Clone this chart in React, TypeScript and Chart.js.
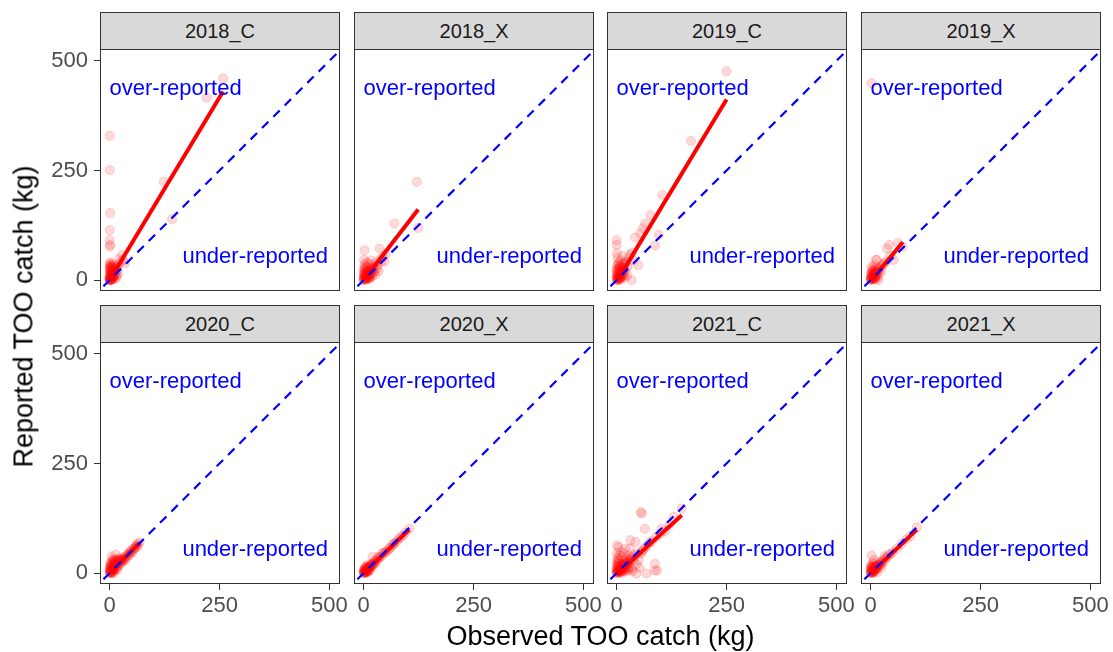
import React, { useEffect, useRef } from "react";
import { Chart, registerables } from "chart.js";

Chart.register(...registerables);

const FONT = "'Liberation Sans', Arial, Helvetica, sans-serif";
Chart.defaults.font.family = FONT;

// ---------------- data ----------------
const panelNames = ["2018_C", "2018_X", "2019_C", "2019_X", "2020_C", "2020_X", "2021_C", "2021_X"];

const xTicks = [0, 250, 500];
const yTicks = [0, 250, 500];
const xRange = [-22, 524];
const yRange = [-25, 527];

// 1:1 reference line (observed = reported)
const refLineX = [-40, 600];
const refLineY = [-40, 600];

const regionLabels = [
  { text: "over-reported", x: 150, y: 436 },
  { text: "under-reported", x: 331, y: 53 },
];

type P = [number, number];

// [observed, reported]
const pts2018C: P[] = [
  [258, 460], [221, 416], [123, 224], [142, 139], [0, 329], [0, 251], [1, 153], [0, 114], [0, 91], [1, 80], [0, 76], [28, 57], [22, 48],
  [0, 0], [1, 2], [2, 5], [3, 1], [5, 8], [4, 12], [2, 18], [6, 22], [8, 15], [10, 20], [12, 30], [3, 28], [1, 35], [0, 25], [7, 4], [15, 10],
  [18, 24], [20, 36], [9, 9], [0, 12], [14, 17], [25, 40], [5, 32], [11, 3], [16, 5], [30, 46], [2, 40], [35, 38], [4, 0], [0, 5], [6, 6],
  [13, 26], [19, 14], [1, 30], [3, 22], [8, 36],
  [0, 1], [1, 0], [2, 2], [3, 4], [1, 6], [0, 8], [2, 10], [4, 6], [5, 3], [6, 12], [3, 14], [1, 16], [0, 20], [2, 24], [4, 18], [7, 10],
  [8, 2], [9, 14], [10, 8], [5, 20], [3, 32], [6, 28], [0, 30], [1, 38], [11, 24], [12, 12], [14, 28], [2, 0], [0, 3], [4, 9],
];
const pts2018X: P[] = [
  [121, 224], [70, 129], [124, 119], [2, 68], [36, 72], [1, 46], [47, 42],
  [0, 0], [2, 3], [4, 8], [6, 2], [8, 12], [10, 6], [12, 18], [3, 15], [1, 25], [5, 30], [15, 22], [18, 28], [20, 15], [22, 35], [25, 30],
  [28, 40], [14, 10], [9, 20], [30, 26], [7, 5], [0, 10], [2, 35], [11, 38], [16, 45], [24, 18], [32, 34], [38, 48], [40, 42], [26, 12],
  [4, 22], [13, 4], [0, 18], [19, 8], [6, 40], [44, 52], [50, 58], [34, 20],
  [0, 2], [1, 1], [2, 6], [3, 3], [4, 12], [5, 5], [6, 9], [7, 14], [8, 4], [9, 10], [10, 16], [11, 8], [12, 12], [13, 20], [14, 15],
  [15, 6], [16, 24], [17, 14], [18, 20], [20, 26], [22, 22], [3, 20], [1, 14], [0, 6], [5, 1], [8, 24], [10, 30], [12, 2], [2, 28], [6, 18],
];
const pts2019C: P[] = [
  [250, 476], [169, 317], [104, 194], [77, 148], [65, 129], [54, 107], [42, 97], [96, 103], [87, 78], [0, 91], [0, 80], [0, 61],
  [34, 0], [15, 38], [49, 34], [60, 118],
  [0, 0], [2, 4], [4, 1], [6, 10], [8, 6], [10, 15], [12, 20], [3, 25], [1, 32], [5, 40], [14, 12], [16, 28], [18, 35], [20, 22], [22, 42],
  [25, 30], [28, 50], [7, 3], [9, 45], [11, 8], [0, 15], [2, 50], [30, 58], [24, 10], [19, 5], [35, 62], [38, 45], [13, 55], [6, 30],
  [0, 2], [1, 6], [2, 1], [3, 8], [4, 12], [5, 4], [6, 16], [7, 9], [8, 20], [9, 2], [10, 26], [11, 14], [12, 6], [13, 30], [14, 22],
  [15, 18], [0, 22], [1, 12], [3, 36], [2, 18], [5, 24], [7, 28], [9, 34], [4, 5], [6, 0], [0, 8], [1, 26], [17, 12], [20, 40], [8, 12],
];
const pts2019X: P[] = [
  [2, 449], [37, 72], [42, 80], [62, 84], [73, 76], [52, 46], [14, 46], [12, 46], [8, 34], [18, 0], [2, 30],
  [0, 0], [2, 4], [5, 2], [8, 10], [10, 6], [12, 15], [4, 18], [15, 12], [18, 22], [20, 16], [6, 8], [3, 25], [14, 28], [22, 30], [25, 20],
  [1, 12], [9, 3], [16, 5], [28, 35], [30, 38], [35, 42], [11, 20], [45, 55],
  [0, 2], [1, 1], [2, 6], [3, 3], [4, 9], [5, 12], [6, 4], [7, 14], [8, 6], [9, 16], [10, 10], [11, 2], [12, 8], [13, 18], [0, 6],
  [2, 10], [4, 2], [6, 12], [1, 16], [3, 20], [7, 22], [10, 24], [16, 20], [19, 26],
];
const pts2020C: P[] = [
  [0, 0], [2, 3], [4, 1], [6, 8], [8, 5], [10, 12], [12, 9], [14, 18], [16, 14], [18, 22], [20, 16], [22, 26], [24, 20], [26, 30], [28, 24],
  [30, 33], [5, 12], [3, 18], [1, 22], [8, 25], [12, 28], [15, 30], [20, 32], [25, 35], [35, 36], [38, 40], [42, 44], [45, 40], [50, 52],
  [55, 55], [60, 62], [68, 70], [32, 28], [36, 30], [0, 8], [2, 14], [7, 2], [10, 0], [18, 8], [40, 38], [48, 46], [52, 48], [58, 56],
  [63, 60], [6, 20], [10, 30], [4, 38], [14, 42],
  [0, 2], [1, 4], [2, 1], [3, 6], [4, 10], [5, 5], [6, 14], [7, 9], [8, 16], [9, 12], [10, 20], [11, 15], [12, 22], [13, 18], [14, 26],
  [16, 20], [18, 28], [20, 24], [22, 30], [24, 28], [0, 12], [2, 18], [4, 24], [6, 28], [8, 32], [1, 10], [3, 2], [5, 0], [9, 6], [15, 10],
  [26, 26], [30, 30], [34, 33], [44, 45], [47, 50], [56, 58], [62, 65], [65, 66],
];
const pts2020X: P[] = [
  [0, 0], [2, 2], [4, 5], [6, 3], [8, 9], [10, 12], [12, 8], [14, 15], [16, 18], [18, 14], [20, 22], [22, 19], [5, 10], [3, 14], [24, 26],
  [26, 22], [28, 30], [30, 28], [20, 37], [35, 34], [40, 38], [45, 44], [50, 48], [55, 52], [60, 58], [65, 63], [70, 68], [75, 72],
  [80, 78], [85, 82], [90, 86], [95, 92], [104, 101], [12, 20], [1, 8], [9, 2], [15, 6], [32, 36], [42, 46],
  [0, 2], [1, 1], [2, 4], [3, 3], [4, 2], [5, 6], [6, 7], [7, 5], [8, 4], [9, 10], [10, 8], [11, 13], [12, 11], [13, 16], [14, 12],
  [16, 15], [18, 20], [20, 18], [2, 8], [4, 12], [6, 16], [0, 5], [3, 0], [7, 1], [11, 4], [25, 24], [36, 36], [48, 47], [58, 55], [68, 66],
];
const pts2021C: P[] = [
  [57, 136], [55, 139], [64, 101], [102, 101], [130, 128], [148, 147], [1, 63], [4, 59], [19, 56], [30, 56], [31, 75], [43, 71],
  [87, 21], [92, 6], [87, 6], [68, -1], [45, -1], [27, 6], [75, 70], [110, 95], [120, 110],
  [0, 0], [2, 3], [4, 8], [6, 2], [8, 12], [10, 5], [12, 18], [3, 15], [1, 25], [5, 30], [15, 22], [18, 28], [20, 15], [22, 35], [25, 30],
  [28, 40], [14, 10], [9, 20], [30, 26], [7, 5], [0, 10], [2, 35], [11, 38], [16, 45], [24, 18], [32, 34], [38, 30], [40, 42], [26, 12],
  [4, 22], [13, 4], [0, 18], [19, 8], [6, 40], [35, 10], [45, 20], [50, 30], [55, 45], [60, 52], [65, 58], [70, 62], [80, 72], [90, 82],
  [100, 90], [36, 4], [52, 12], [10, 48], [0, 45],
  [0, 2], [1, 1], [2, 6], [3, 3], [4, 4], [5, 9], [6, 6], [7, 12], [8, 8], [9, 3], [10, 14], [11, 10], [12, 6], [13, 16], [14, 20],
  [15, 12], [16, 8], [17, 18], [18, 14], [20, 20], [22, 24], [24, 22], [26, 28], [28, 25], [30, 32], [0, 6], [1, 14], [3, 22], [2, 28],
  [5, 16], [8, 2], [12, 0], [20, 4], [25, 8], [30, 14], [42, 38], [48, 44], [58, 50],
];
const pts2021X: P[] = [
  [0, 0], [2, 3], [4, 1], [6, 7], [8, 10], [10, 5], [12, 14], [14, 11], [16, 18], [18, 15], [20, 22], [3, 12], [1, 18], [5, 24], [2, 40],
  [8, 30], [22, 26], [25, 20], [28, 30], [30, 27], [35, 34], [38, 36], [40, 42], [45, 43], [50, 47], [60, 56], [70, 66], [80, 76],
  [90, 84], [105, 104], [15, 2], [10, 16], [24, 12], [32, 38], [0, 8],
  [0, 2], [1, 1], [2, 5], [3, 3], [4, 8], [5, 4], [6, 10], [7, 6], [8, 3], [9, 12], [10, 9], [11, 14], [12, 8], [13, 16], [14, 14],
  [16, 12], [18, 20], [1, 10], [3, 16], [5, 14], [7, 20], [0, 14], [4, 0], [6, 2], [20, 18], [26, 24],
];

// fitted linear trend (start, end)
const fit2018C: P[] = [[0, 0], [258, 430]];
const fit2018X: P[] = [[0, 0], [124, 161]];
const fit2019C: P[] = [[0, -3], [250, 412]];
const fit2019X: P[] = [[0, -2], [73, 86]];
const fit2020C: P[] = [[0, 0], [68, 69]];
const fit2020X: P[] = [[0, -1], [104, 100]];
const fit2021C: P[] = [[0, -3], [148, 132]];
const fit2021X: P[] = [[0, -1], [105, 99]];

const panelPoints = [pts2018C, pts2018X, pts2019C, pts2019X, pts2020C, pts2020X, pts2021C, pts2021X];
const panelFits = [fit2018C, fit2018X, fit2019C, fit2019X, fit2020C, fit2020X, fit2021C, fit2021X];

// ---------------- layout ----------------
const colLefts = [100, 354, 607, 861];
const stripTops = [12, 305];
const panelTops = [49, 342];
const PW = 240;
const PH = 242;

const panelDecor = {
  id: "panelDecor",
  afterDatasetsDraw(chart: any) {
    const { ctx, chartArea: a, scales } = chart;
    ctx.save();
    ctx.beginPath();
    ctx.rect(a.left, a.top, a.right - a.left, a.bottom - a.top);
    ctx.clip();
    ctx.font = `22px ${FONT}`;
    ctx.fillStyle = "#0000FF";
    ctx.textAlign = "center";
    ctx.textBaseline = "middle";
    for (const lab of regionLabels) {
      ctx.fillText(lab.text, scales.x.getPixelForValue(lab.x), scales.y.getPixelForValue(lab.y));
    }
    ctx.restore();
    ctx.save();
    ctx.strokeStyle = "#333333";
    ctx.lineWidth = 1;
    ctx.strokeRect(a.left + 0.5, a.top + 0.5, a.right - a.left - 1, a.bottom - a.top - 1);
    ctx.restore();
  },
};

function Panel({ idx }: { idx: number }) {
  const ref = useRef<HTMLCanvasElement>(null);
  const r = Math.floor(idx / 4);
  const c = idx % 4;
  const pl = colLefts[c];
  const pt = panelTops[r];
  const yAxisW = c === 0 ? pl : 0;
  const xAxisH = r === 1 ? 44 : 0;
  const padTop = 14;
  const padRight = 16;
  const padBottom = r === 1 ? 0 : 4;
  const cw = yAxisW + PW + padRight;
  const ch = padTop + PH + xAxisH + padBottom;
  const cl = pl - yAxisW;
  const ctop = pt - padTop;

  useEffect(() => {
    const pts = panelPoints[idx];
    const fit = panelFits[idx];
    const tickFont = { family: FONT, size: 22 };
    const grid = {
      display: true,
      drawOnChartArea: false,
      drawTicks: true,
      tickLength: 6,
      color: "#333333",
      lineWidth: 1,
    };
    const chart = new Chart(ref.current as HTMLCanvasElement, {
      type: "scatter",
      data: {
        datasets: [
          {
            type: "line",
            data: refLineX.map((x, i) => ({ x, y: refLineY[i] })),
            borderColor: "#0000FF",
            borderWidth: 2.2,
            borderDash: [9, 7],
            pointRadius: 0,
            showLine: true,
            fill: false,
            clip: 0,
          } as any,
          {
            type: "line",
            data: fit.map(([x, y]) => ({ x, y })),
            borderColor: "#FF0000",
            borderWidth: 4,
            pointRadius: 0,
            showLine: true,
            fill: false,
            clip: 0,
          } as any,
          {
            type: "scatter",
            data: pts.map(([x, y]) => ({ x, y })),
            backgroundColor: "rgba(255,0,0,0.15)",
            borderColor: "rgba(255,0,0,0.15)",
            borderWidth: 1,
            pointRadius: 4.6,
            clip: 0,
          } as any,
        ],
      },
      options: {
        animation: false,
        responsive: false,
        events: [],
        layout: { autoPadding: false, padding: { top: padTop, right: padRight, bottom: padBottom, left: 0 } },
        plugins: { legend: { display: false }, tooltip: { enabled: false }, title: { display: false } },
        scales: {
          x: {
            type: "linear",
            position: "bottom",
            min: xRange[0],
            max: xRange[1],
            display: r === 1,
            afterBuildTicks: (s: any) => {
              s.ticks = xTicks.map((v) => ({ value: v }));
            },
            afterFit: (s: any) => {
              s.height = xAxisH;
              s.paddingLeft = 0;
              s.paddingRight = 0;
            },
            ticks: { font: tickFont, color: "#4D4D4D", padding: 3, maxRotation: 0, autoSkip: false },
            grid,
            border: { display: false },
          },
          y: {
            type: "linear",
            position: "left",
            min: yRange[0],
            max: yRange[1],
            display: c === 0,
            afterBuildTicks: (s: any) => {
              s.ticks = yTicks.map((v) => ({ value: v }));
            },
            afterFit: (s: any) => {
              s.width = yAxisW;
              s.paddingTop = 0;
              s.paddingBottom = 0;
            },
            ticks: { font: tickFont, color: "#4D4D4D", padding: 6, autoSkip: false },
            grid,
            border: { display: false },
          },
        },
      } as any,
      plugins: [panelDecor],
    });
    return () => chart.destroy();
  }, []);

  return (
    <canvas
      ref={ref}
      width={cw}
      height={ch}
      style={{ position: "absolute", left: cl, top: ctop, width: cw, height: ch }}
    />
  );
}

function Strip({ idx, name }: { idx: number; name: string }) {
  const r = Math.floor(idx / 4);
  const c = idx % 4;
  return (
    <div
      style={{
        position: "absolute",
        left: colLefts[c],
        top: stripTops[r],
        width: PW,
        height: 38,
        boxSizing: "border-box",
        border: "1px solid #333333",
        background: "#D9D9D9",
        color: "#1A1A1A",
        fontSize: 20,
        fontFamily: FONT,
        display: "flex",
        alignItems: "center",
        justifyContent: "center",
        paddingTop: 1,
      }}
    >
      {name}
    </div>
  );
}

export default function App() {
  return (
    <div
      style={{
        position: "fixed",
        left: 0,
        top: 0,
        width: 1113,
        height: 652,
        background: "#FFFFFF",
        overflow: "hidden",
        fontFamily: FONT,
      }}
    >
      {panelNames.map((n, i) => (
        <Strip key={"s" + n} idx={i} name={n} />
      ))}
      {panelNames.map((n, i) => (
        <Panel key={"p" + n} idx={i} />
      ))}
      <div
        style={{
          position: "absolute",
          left: 100,
          top: 623,
          width: 1001,
          textAlign: "center",
          fontSize: 27,
          lineHeight: "27px",
          color: "#000000",
          whiteSpace: "nowrap",
        }}
      >
        Observed TOO catch (kg)
      </div>
      <div
        style={{
          position: "absolute",
          left: 23.7 - 200,
          top: 316 - 13.5,
          width: 400,
          height: 27,
          textAlign: "center",
          fontSize: 27,
          lineHeight: "27px",
          color: "#000000",
          whiteSpace: "nowrap",
          transform: "rotate(-90deg)",
        }}
      >
        Reported TOO catch (kg)
      </div>
    </div>
  );
}
